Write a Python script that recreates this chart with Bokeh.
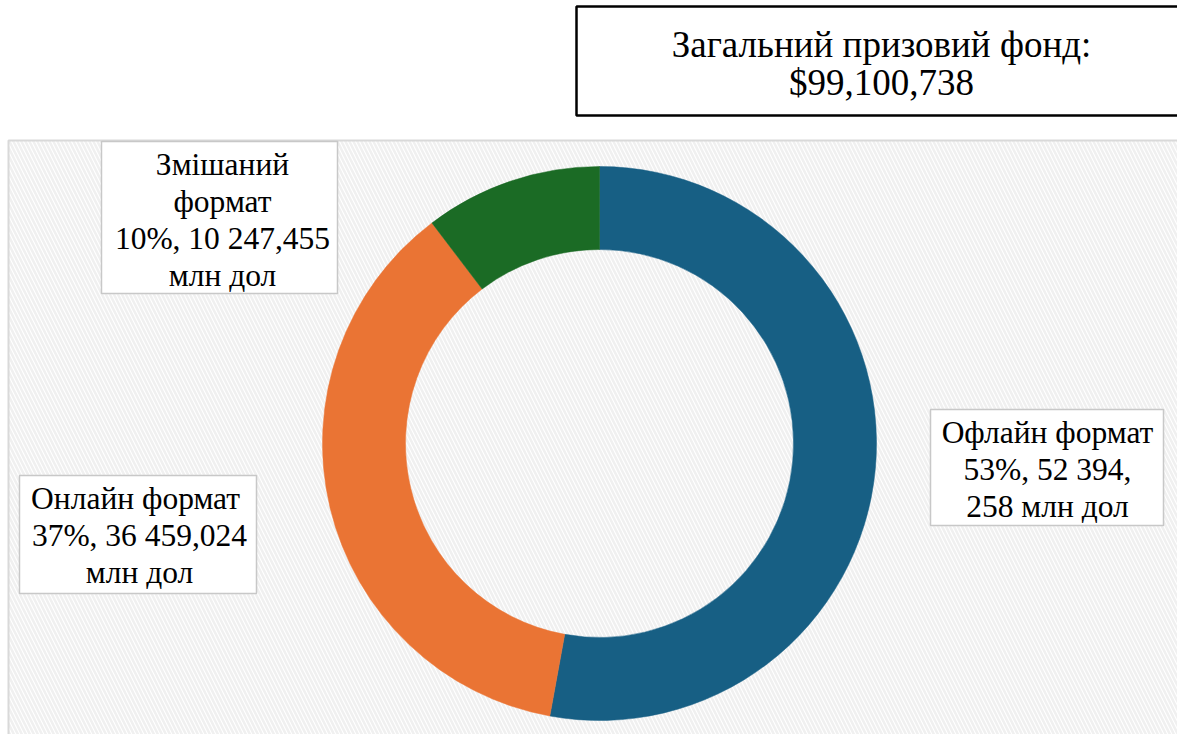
import math
from bokeh.plotting import figure
from bokeh.models import Range1d
from bokeh.core.properties import value
from bokeh.embed import file_html
from bokeh.resources import INLINE

# ---- data ----
categories = ["Офлайн формат", "Онлайн формат", "Змішаний формат"]
values = [52394.258, 36459.024, 10247.455]
colors = ["#175F84", "#EA7434", "#1B6B25"]
label_lines = [
    ["Офлайн формат", "53%, 52 394,", "258 млн дол"],
    ["Онлайн  формат", "37%, 36 459,024", "млн дол"],
    ["Змішаний", "формат", "10%, 10 247,455", "млн дол"],
]
title_lines = ["Загальний призовий фонд:", "$99,100,738"]

W, H = 1177, 734
FONT = "Liberation Serif"

p = figure(width=W, height=H, x_range=Range1d(0, W), y_range=Range1d(0, H),
           output_backend="svg", toolbar_location=None, min_border=0,
           outline_line_color=None)
p.axis.visible = False
p.grid.visible = False
p.background_fill_color = "white"
p.border_fill_color = "white"

# plot area with faint hatch
p.quad(left=8, right=W + 10, bottom=-10, top=594, fill_color="white",
       hatch_pattern="\\", hatch_color="#f0f0f0", hatch_scale=8, hatch_weight=2.5,
       line_color="#d9d9d9", line_width=2)

# donut
cx, cy = 599, 291
r_in, r_out = 194, 277
total = sum(values)
cum = 0.0
starts, ends = [], []
for v in values:
    starts.append(math.pi / 2 - 2 * math.pi * cum / total)
    cum += v
    ends.append(math.pi / 2 - 2 * math.pi * cum / total)
p.annular_wedge(x=[cx] * len(values), y=[cy] * len(values),
                inner_radius=r_in, outer_radius=r_out,
                start_angle=starts, end_angle=ends, direction="clock",
                fill_color=colors, line_color=colors, line_width=0.5)

# label boxes: (left, right, bottom, top, center_x, baselines)
layouts = [
    (930, 1163, 209, 325, 1047, [302, 265, 228]),
    (19, 256, 141, 259, 139, [236, 199, 162]),
    (101, 337, 441, 593, 222, [570, 533, 496, 459]),
]
for (l, r, b, t, xc, ys), lines in zip(layouts, label_lines):
    p.quad(left=l, right=r, bottom=b, top=t, fill_color="white",
           line_color="#c8c8c8", line_width=1.5)
    p.text(x=[xc] * len(lines), y=ys, text=lines, text_align="center",
           text_baseline="alphabetic", text_font=value(FONT),
           text_font_size="31.5px", text_color="black")

# title box
p.quad(left=576, right=W + 10, bottom=619, top=728, fill_color="white",
       line_color="black", line_width=2.5)
p.text(x=[881, 881], y=[690, 652], text=title_lines, text_align="center",
       text_baseline="alphabetic", text_font=value(FONT), text_font_size="37px",
       text_color="black")

open("out.html", "w").write(file_html(p, INLINE))
